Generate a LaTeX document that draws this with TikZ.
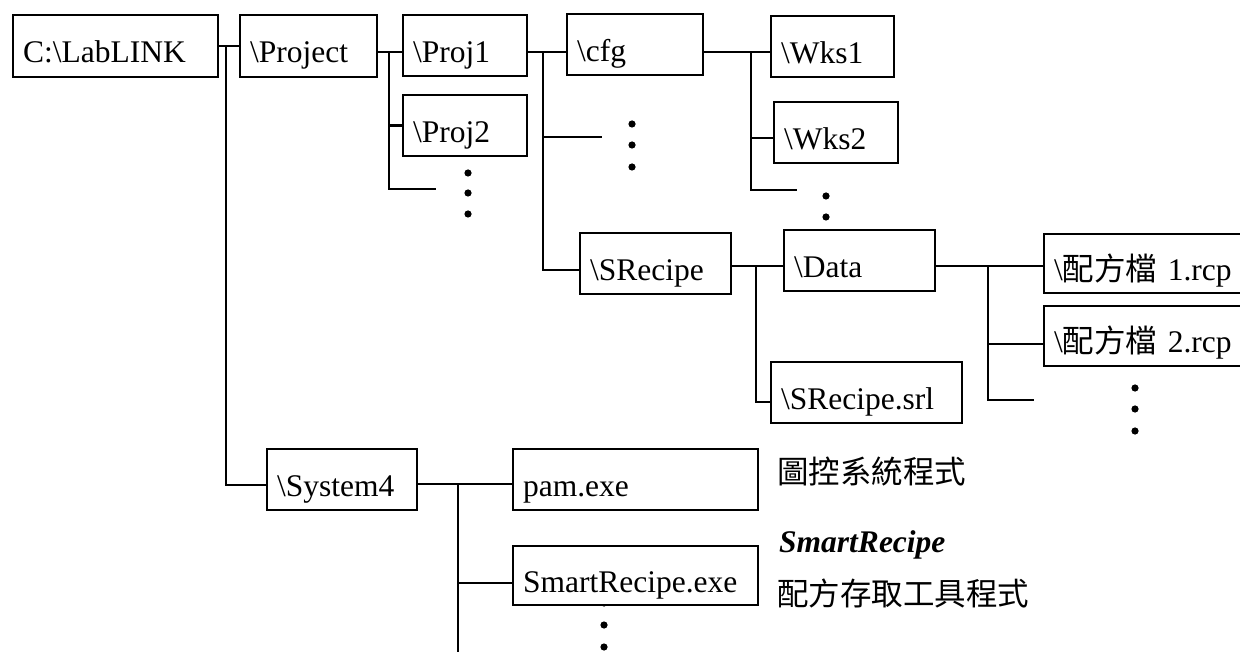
\documentclass[tikz,border=0pt]{standalone}
\usepackage{fontspec}
\setmainfont{Liberation Serif}
\newfontfamily\cjk{Noto Sans CJK TC}
\begin{document}
\begin{tikzpicture}[x=1pt,y=-1pt,
  lw/.style={line width=2.2pt},
  box/.style={draw, lw, fill=white, rectangle, anchor=north west,
    inner xsep=10pt, inner ysep=0pt, align=left,
    text height=33pt, text depth=0pt,
    font=\fontsize{31.5pt}{36pt}\selectfont},
  conn/.style={lw},
  lbl/.style={anchor=base west, inner sep=0pt, font=\fontsize{31.5pt}{36pt}\selectfont},
  dotfill/.style={fill=black}]
\useasboundingbox (0,0) rectangle (1240,652);

% dots
\foreach \yy in {173,193,214} \fill[dotfill] (468,\yy) circle (3.6);
\foreach \yy in {124,145,167} \fill[dotfill] (632,\yy) circle (3.6);
\foreach \yy in {196,217} \fill[dotfill] (826,\yy) circle (3.6);
\foreach \yy in {388,409,431} \fill[dotfill] (1135,\yy) circle (3.6);
\foreach \yy in {603,625,647} \fill[dotfill] (604,\yy) circle (3.6);

% boxes
\node[box, minimum height=62pt, text width=185pt] (lab) at (12,14) {C:\textbackslash LabLINK};
\node[box, minimum height=62pt, text width=117pt] (proj) at (239,14) {\textbackslash Project};
\node[box, minimum height=61pt, text width=104pt] (p1) at (402,14) {\textbackslash Proj1};
\node[box, minimum height=61pt, text width=104pt] (p2) at (402,94) {\textbackslash Proj2};
\node[box, minimum height=61pt, text width=116pt] (cfg) at (566,13) {\textbackslash cfg};
\node[box, minimum height=61pt, text width=103pt] (w1) at (770,15) {\textbackslash Wks1};
\node[box, minimum height=61pt, text width=104pt] (w2) at (773,101) {\textbackslash Wks2};
\node[box, minimum height=61pt, text width=131pt] (srec) at (579,232) {\textbackslash SRecipe};
\node[box, minimum height=61pt, text width=131pt] (data) at (783,229) {\textbackslash Data};
\node[box, minimum height=61pt, text width=171pt] (srl) at (770,361) {\textbackslash SRecipe.srl};
\node[box, minimum height=59pt, text width=200pt] (r1) at (1043,233) {\textbackslash{\cjk 配方檔} 1.rcp};
\node[box, minimum height=60pt, text width=200pt] (r2) at (1043,305) {\textbackslash{\cjk 配方檔} 2.rcp};
\node[box, minimum height=61pt, text width=130pt] (s4) at (266,448) {\textbackslash System4};
\node[box, minimum height=61pt, text width=225pt] (pam) at (512,448) {pam.exe};
\node[box, minimum height=59pt, text width=225pt] (sre) at (512,545) {SmartRecipe.exe};

% connectors
\coordinate (t1) at (226,46);
\draw[conn] (lab.east |- t1) -- (proj.west |- t1);
\draw[conn] (t1) |- ([yshift=-5.5pt]s4.west);

\coordinate (t2) at (389,52);
\draw[conn] (proj.east |- t2) -- (p1.west |- t2);
\draw[conn] (t2) |- (p2.west);
\coordinate (e1) at (436,189);
\draw[conn] (t2) |- (e1);

\coordinate (t3) at (543,52);
\draw[conn] (p1.east |- t3) -- (cfg.west |- t3);
\draw[conn] (t3) |- ([yshift=-6.5pt]srec.west);
\coordinate (e2) at (602,137);
\draw[conn] (t3 |- e2) -- (e2);

\coordinate (t4) at (751,52);
\draw[conn] (cfg.east |- t4) -- (w1.west |- t4);
\draw[conn] ([yshift=-5.5pt]w2.west) -| (t4);
\coordinate (e3) at (797,190);
\draw[conn] (t4) |- (e3);

\coordinate (t5) at (756,266);
\draw[conn] (srec.east |- t5) -- (data.west |- t5);
\draw[conn] (t5) |- ([yshift=-9.5pt]srl.west);

\coordinate (t6) at (988,266);
\draw[conn] (data.east |- t6) -- (r1.west |- t6);
\draw[conn] ([yshift=-8pt]r2.west) -| (t6);
\coordinate (e4) at (1034,400);
\draw[conn] (t6) |- (e4);

\coordinate (t7) at (458,484);
\draw[conn] (s4.east |- t7) -- (pam.west |- t7);
\draw[conn] ([yshift=-7.5pt]sre.west) -| (t7);
\coordinate (e5) at (508,653);
\draw[conn] (t7) |- (e5);

% side labels
\node[lbl] (ctl) at (777,483) {\cjk 圖控系統程式};
\node[lbl] (srname) at (779,552) {\bfseries\itshape SmartRecipe};
\node[lbl] (srdesc) at (777,605) {\cjk 配方存取工具程式};
\end{tikzpicture}
\end{document}
